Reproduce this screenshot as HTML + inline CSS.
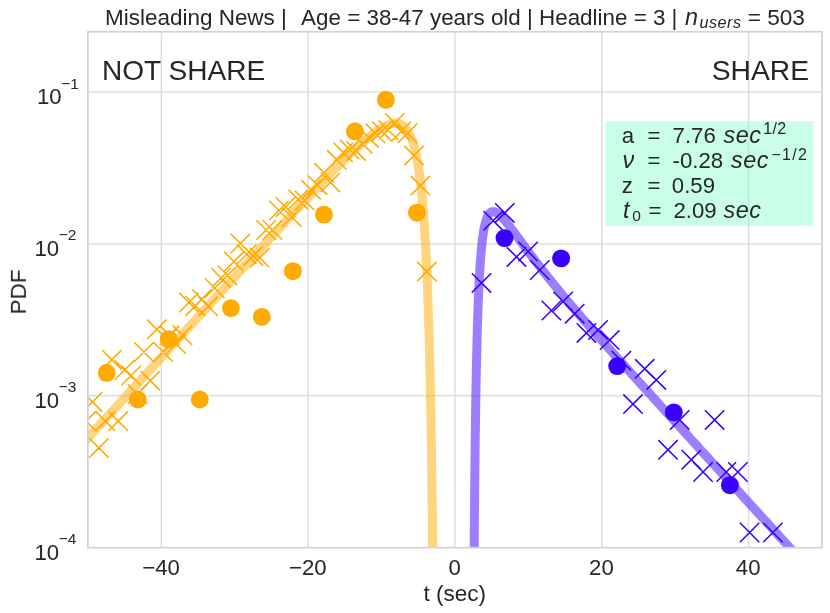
<!DOCTYPE html>
<html><head><meta charset="utf-8"><title>PDF plot</title>
<style>html,body{margin:0;padding:0;background:#fff}body{width:830px;height:613px;overflow:hidden;font-family:"Liberation Sans",sans-serif}</style></head>
<body>
<svg width="830" height="613" viewBox="0 0 830 613" style="display:block;font-family:'Liberation Sans',sans-serif">
<defs><clipPath id="ax"><rect x="87.90" y="31.76" width="734.05" height="515.94"/></clipPath></defs>
<rect width="830" height="613" fill="#fff"/>
<g stroke="#cccccc" stroke-width="1.5" stroke-opacity="0.64"><line x1="161.31" y1="31.76" x2="161.31" y2="547.70"/><line x1="308.12" y1="31.76" x2="308.12" y2="547.70"/><line x1="454.93" y1="31.76" x2="454.93" y2="547.70"/><line x1="601.74" y1="31.76" x2="601.74" y2="547.70"/><line x1="748.55" y1="31.76" x2="748.55" y2="547.70"/><line x1="87.90" y1="92.00" x2="821.95" y2="92.00"/><line x1="87.90" y1="243.90" x2="821.95" y2="243.90"/><line x1="87.90" y1="395.80" x2="821.95" y2="395.80"/></g>
<g clip-path="url(#ax)" fill="none">
<path d="M473.8 602.1 L473.9 593.9 L473.9 585.9 L474.0 578.1 L474.0 570.6 L474.1 563.3 L474.1 556.2 L474.2 549.3 L474.2 542.6 L474.3 536.0 L474.3 529.7 L474.4 523.5 L474.4 517.5 L474.5 511.6 L474.5 505.9 L474.6 500.4 L474.6 495.0 L474.7 489.7 L474.7 484.6 L474.8 479.6 L474.8 474.7 L474.9 469.9 L474.9 465.3 L475.0 460.7 L475.0 456.3 L475.1 452.0 L475.1 447.7 L475.2 443.6 L475.2 439.6 L475.3 435.6 L475.3 431.8 L475.4 428.0 L475.4 424.3 L475.5 420.7 L475.5 417.2 L475.6 413.8 L475.6 410.4 L475.7 407.1 L475.7 403.9 L475.8 400.7 L475.8 397.6 L475.9 394.6 L475.9 391.6 L476.0 388.7 L476.0 385.8 L476.1 383.1 L476.1 380.3 L476.2 377.6 L476.3 375.0 L476.3 372.4 L476.4 369.9 L476.4 367.4 L476.5 365.0 L476.5 362.6 L476.6 360.2 L476.6 357.9 L476.7 355.7 L476.7 353.5 L476.8 351.3 L476.8 349.2 L476.9 347.1 L476.9 345.0 L477.0 343.0 L477.0 341.0 L477.1 339.1 L477.1 337.2 L477.2 335.3 L477.2 333.4 L477.3 331.6 L477.3 329.9 L477.4 328.1 L477.4 326.4 L477.5 324.7 L477.5 323.0 L477.6 321.4 L477.6 319.8 L477.7 318.2 L477.7 316.6 L477.8 315.1 L477.8 313.6 L477.9 312.1 L477.9 310.7 L478.0 309.2 L478.0 307.8 L478.1 306.5 L478.1 305.1 L478.2 303.8 L478.2 302.4 L478.3 301.1 L478.3 299.9 L478.4 298.6 L478.4 297.4 L478.5 296.1 L478.5 294.9 L478.6 293.8 L478.6 292.6 L478.7 291.4 L478.7 290.3 L478.8 289.2 L478.8 288.1 L478.9 287.0 L478.9 286.0 L479.0 284.9 L479.0 283.9 L479.1 282.9 L479.1 281.9 L479.2 280.9 L479.2 279.9 L479.3 279.0 L479.3 278.0 L479.4 277.1 L479.4 276.2 L479.5 275.3 L479.5 274.4 L479.6 273.5 L479.6 272.6 L479.7 271.8 L479.7 271.0 L479.8 270.1 L479.8 269.3 L479.9 268.5 L479.9 267.7 L480.0 266.9 L480.0 266.2 L480.1 265.4 L480.1 264.7 L480.2 263.9 L480.2 263.2 L480.3 262.5 L480.3 261.8 L480.4 261.1 L480.4 260.4 L480.5 259.7 L480.6 259.0 L480.6 258.4 L480.7 257.7 L480.7 257.1 L480.8 256.4 L480.8 255.8 L480.9 255.2 L480.9 254.6 L481.0 254.0 L481.0 253.4 L481.1 252.8 L481.1 252.2 L481.2 251.6 L481.2 251.1 L481.3 250.5 L481.3 250.0 L481.4 249.4 L481.4 248.9 L481.5 248.4 L481.5 247.9 L481.6 247.3 L481.6 246.8 L481.7 246.3 L481.7 245.8 L481.8 245.4 L481.8 244.9 L481.9 244.4 L481.9 243.9 L482.0 243.5 L482.0 243.0 L482.1 242.6 L482.1 242.1 L482.2 241.7 L482.2 241.2 L482.3 240.8 L482.3 240.4 L482.4 240.0 L482.4 239.6 L482.5 239.2 L482.5 238.8 L482.6 238.4 L482.6 238.0 L482.7 237.6 L482.7 237.2 L482.8 236.8 L482.8 236.5 L482.9 236.1 L482.9 235.7 L483.0 235.4 L483.0 235.0 L483.1 234.7 L483.1 234.3 L483.2 234.0 L483.2 233.7 L483.3 233.3 L483.3 233.0 L483.4 232.7 L483.4 232.4 L483.5 232.1 L483.5 231.7 L483.6 231.4 L483.6 231.1 L483.7 230.8 L483.7 230.5 L483.8 230.3 L483.8 230.0 L483.9 229.7 L483.9 229.4 L484.0 229.1 L484.0 228.9 L484.1 228.6 L484.1 228.3 L484.2 228.1 L484.2 227.8 L484.3 227.5 L484.3 227.3 L484.4 227.0 L484.4 226.8 L484.5 226.5 L484.5 226.3 L484.6 226.1 L484.6 225.8 L484.7 225.6 L484.7 225.4 L484.8 225.2 L484.9 224.9 L484.9 224.7 L485.0 224.5 L485.0 224.3 L485.1 224.1 L485.1 223.9 L485.2 223.7 L485.2 223.5 L485.3 223.3 L485.3 223.1 L485.4 222.9 L485.4 222.7 L485.5 222.5 L485.5 222.3 L485.6 222.1 L485.6 221.9 L485.7 221.7 L485.7 221.6 L485.8 221.4 L485.8 221.2 L485.9 221.0 L485.9 220.9 L486.0 220.7 L486.0 220.5 L486.1 220.4 L486.1 220.2 L486.2 220.1 L486.2 219.9 L486.3 219.7 L486.3 219.6 L486.4 219.4 L486.4 219.3 L486.5 219.2 L486.5 219.0 L486.6 218.9 L486.6 218.7 L486.7 218.6 L486.7 218.5 L486.8 218.3 L486.8 218.2 L486.9 218.1 L486.9 217.9 L487.0 217.8 L487.0 217.7 L487.1 217.6 L487.1 217.4 L487.2 217.3 L487.2 217.2 L487.3 217.1 L487.3 217.0 L487.4 216.9 L487.4 216.7 L487.5 216.6 L487.5 216.5 L487.6 216.4 L487.6 216.3 L487.7 216.2 L487.7 216.1 L487.8 216.0 L487.8 215.9 L487.9 215.8 L487.9 215.7 L488.0 215.6 L488.0 215.5 L488.1 215.4 L488.1 215.3 L488.2 215.3 L488.2 215.2 L488.3 215.1 L488.3 215.0 L488.4 214.9 L488.4 214.8 L488.5 214.8 L488.5 214.7 L488.6 214.6 L488.6 214.5 L488.7 214.4 L488.7 214.4 L488.8 214.3 L488.8 214.2 L488.9 214.2 L488.9 214.1 L489.0 214.0 L489.1 213.9 L489.1 213.9 L489.2 213.8 L489.2 213.8 L489.3 213.7 L489.3 213.6 L489.4 213.6 L489.4 213.5 L489.5 213.5 L489.5 213.4 L489.6 213.3 L489.6 213.3 L489.7 213.2 L489.7 213.2 L489.8 213.1 L489.8 213.1 L489.9 213.0 L489.9 213.0 L490.0 212.9 L490.0 212.9 L490.1 212.8 L490.1 212.8 L490.2 212.8 L490.2 212.7 L490.3 212.7 L490.3 212.6 L490.4 212.6 L490.4 212.5 L490.5 212.5 L490.5 212.5 L490.6 212.4 L490.6 212.4 L490.7 212.4 L490.7 212.3 L490.8 212.3 L490.8 212.3 L490.9 212.2 L490.9 212.2 L491.0 212.2 L491.0 212.2 L491.1 212.1 L491.1 212.1 L491.2 212.1 L491.2 212.0 L491.3 212.0 L491.3 212.0 L491.4 212.0 L491.4 212.0 L491.5 211.9 L491.5 211.9 L491.6 211.9 L491.6 211.9 L491.7 211.9 L491.7 211.8 L491.8 211.8 L491.8 211.8 L491.9 211.8 L491.9 211.8 L492.0 211.8 L492.0 211.7 L492.1 211.7 L492.1 211.7 L492.2 211.7 L492.2 211.7 L492.3 211.7 L493.0 211.6 L493.7 211.6 L494.4 211.8 L495.1 212.0 L495.8 212.3 L496.5 212.7 L497.2 213.1 L497.9 213.6 L498.6 214.1 L499.3 214.7 L500.0 215.3 L500.7 216.0 L501.4 216.7 L502.1 217.4 L502.8 218.1 L503.5 218.9 L504.2 219.7 L504.9 220.5 L505.6 221.3 L506.3 222.2 L507.0 223.0 L507.7 223.9 L508.4 224.8 L509.1 225.7 L509.8 226.6 L510.4 227.5 L511.1 228.4 L511.8 229.3 L512.5 230.3 L513.2 231.2 L513.9 232.1 L514.6 233.1 L515.3 234.0 L516.0 235.0 L516.7 235.9 L517.4 236.8 L518.1 237.8 L518.8 238.7 L519.5 239.7 L520.2 240.7 L520.9 241.6 L521.6 242.6 L522.3 243.5 L523.0 244.5 L523.7 245.4 L524.4 246.3 L525.1 247.3 L525.8 248.2 L526.5 249.2 L527.2 250.1 L527.9 251.1 L528.6 252.0 L529.3 252.9 L530.0 253.9 L530.7 254.8 L531.4 255.7 L532.1 256.7 L532.8 257.6 L533.5 258.5 L534.2 259.4 L534.9 260.4 L535.6 261.3 L536.3 262.2 L537.0 263.1 L537.7 264.0 L538.4 264.9 L539.1 265.8 L539.8 266.7 L540.5 267.6 L541.2 268.5 L541.9 269.4 L542.6 270.3 L543.3 271.2 L544.0 272.1 L544.7 273.0 L545.4 273.9 L546.1 274.8 L546.8 275.7 L547.5 276.5 L548.2 277.4 L548.9 278.3 L549.6 279.2 L550.3 280.0 L551.0 280.9 L551.7 281.8 L552.4 282.6 L553.1 283.5 L553.8 284.4 L554.5 285.2 L555.2 286.1 L555.9 286.9 L556.6 287.8 L557.2 288.6 L557.9 289.5 L558.6 290.3 L559.3 291.2 L560.0 292.0 L560.7 292.9 L561.4 293.7 L562.1 294.6 L562.8 295.4 L563.5 296.2 L564.2 297.1 L564.9 297.9 L565.6 298.7 L566.3 299.6 L567.0 300.4 L567.7 301.2 L568.4 302.1 L569.1 302.9 L569.8 303.7 L570.5 304.5 L571.2 305.4 L571.9 306.2 L572.6 307.0 L573.3 307.8 L574.0 308.6 L574.7 309.5 L575.4 310.3 L576.1 311.1 L576.8 311.9 L577.5 312.7 L578.2 313.5 L578.9 314.3 L579.6 315.1 L580.3 316.0 L581.0 316.8 L581.7 317.6 L582.4 318.4 L583.1 319.2 L583.8 320.0 L584.5 320.8 L585.2 321.6 L585.9 322.4 L586.6 323.2 L587.3 324.0 L588.0 324.8 L588.7 325.6 L589.4 326.4 L590.1 327.2 L590.8 328.0 L591.5 328.8 L592.2 329.6 L592.9 330.4 L593.6 331.2 L594.3 332.0 L595.0 332.8 L595.7 333.5 L596.4 334.3 L597.1 335.1 L597.8 335.9 L598.5 336.7 L599.2 337.5 L599.9 338.3 L600.6 339.1 L601.3 339.9 L602.0 340.7 L602.7 341.4 L603.4 342.2 L604.1 343.0 L604.7 343.8 L605.4 344.6 L606.1 345.4 L606.8 346.2 L607.5 346.9 L608.2 347.7 L608.9 348.5 L609.6 349.3 L610.3 350.1 L611.0 350.9 L611.7 351.6 L612.4 352.4 L613.1 353.2 L613.8 354.0 L614.5 354.8 L615.2 355.5 L615.9 356.3 L616.6 357.1 L617.3 357.9 L618.0 358.7 L618.7 359.4 L619.4 360.2 L620.1 361.0 L620.8 361.8 L621.5 362.5 L622.2 363.3 L622.9 364.1 L623.6 364.9 L624.3 365.7 L625.0 366.4 L625.7 367.2 L626.4 368.0 L627.1 368.8 L627.8 369.5 L628.5 370.3 L629.2 371.1 L629.9 371.9 L630.6 372.6 L631.3 373.4 L632.0 374.2 L632.7 375.0 L633.4 375.7 L634.1 376.5 L634.8 377.3 L635.5 378.1 L636.2 378.8 L636.9 379.6 L637.6 380.4 L638.3 381.1 L639.0 381.9 L639.7 382.7 L640.4 383.5 L641.1 384.2 L641.8 385.0 L642.5 385.8 L643.2 386.6 L643.9 387.3 L644.6 388.1 L645.3 388.9 L646.0 389.6 L646.7 390.4 L647.4 391.2 L648.1 392.0 L648.8 392.7 L649.5 393.5 L650.2 394.3 L650.9 395.0 L651.5 395.8 L652.2 396.6 L652.9 397.4 L653.6 398.1 L654.3 398.9 L655.0 399.7 L655.7 400.4 L656.4 401.2 L657.1 402.0 L657.8 402.7 L658.5 403.5 L659.2 404.3 L659.9 405.1 L660.6 405.8 L661.3 406.6 L662.0 407.4 L662.7 408.1 L663.4 408.9 L664.1 409.7 L664.8 410.4 L665.5 411.2 L666.2 412.0 L666.9 412.8 L667.6 413.5 L668.3 414.3 L669.0 415.1 L669.7 415.8 L670.4 416.6 L671.1 417.4 L671.8 418.1 L672.5 418.9 L673.2 419.7 L673.9 420.4 L674.6 421.2 L675.3 422.0 L676.0 422.7 L676.7 423.5 L677.4 424.3 L678.1 425.1 L678.8 425.8 L679.5 426.6 L680.2 427.4 L680.9 428.1 L681.6 428.9 L682.3 429.7 L683.0 430.4 L683.7 431.2 L684.4 432.0 L685.1 432.7 L685.8 433.5 L686.5 434.3 L687.2 435.0 L687.9 435.8 L688.6 436.6 L689.3 437.3 L690.0 438.1 L690.7 438.9 L691.4 439.6 L692.1 440.4 L692.8 441.2 L693.5 441.9 L694.2 442.7 L694.9 443.5 L695.6 444.3 L696.3 445.0 L697.0 445.8 L697.7 446.6 L698.3 447.3 L699.0 448.1 L699.7 448.9 L700.4 449.6 L701.1 450.4 L701.8 451.2 L702.5 451.9 L703.2 452.7 L703.9 453.5 L704.6 454.2 L705.3 455.0 L706.0 455.8 L706.7 456.5 L707.4 457.3 L708.1 458.1 L708.8 458.8 L709.5 459.6 L710.2 460.4 L710.9 461.1 L711.6 461.9 L712.3 462.7 L713.0 463.4 L713.7 464.2 L714.4 465.0 L715.1 465.7 L715.8 466.5 L716.5 467.3 L717.2 468.0 L717.9 468.8 L718.6 469.6 L719.3 470.3 L720.0 471.1 L720.7 471.9 L721.4 472.6 L722.1 473.4 L722.8 474.2 L723.5 474.9 L724.2 475.7 L724.9 476.5 L725.6 477.2 L726.3 478.0 L727.0 478.8 L727.7 479.6 L728.4 480.3 L729.1 481.1 L729.8 481.9 L730.5 482.6 L731.2 483.4 L731.9 484.2 L732.6 484.9 L733.3 485.7 L734.0 486.5 L734.7 487.2 L735.4 488.0 L736.1 488.8 L736.8 489.5 L737.5 490.3 L738.2 491.1 L738.9 491.8 L739.6 492.6 L740.3 493.4 L741.0 494.1 L741.7 494.9 L742.4 495.7 L743.1 496.4 L743.8 497.2 L744.5 498.0 L745.1 498.7 L745.8 499.5 L746.5 500.3 L747.2 501.0 L747.9 501.8 L748.6 502.6 L749.3 503.3 L750.0 504.1 L750.7 504.9 L751.4 505.6 L752.1 506.4 L752.8 507.2 L753.5 507.9 L754.2 508.7 L754.9 509.5 L755.6 510.2 L756.3 511.0 L757.0 511.8 L757.7 512.5 L758.4 513.3 L759.1 514.1 L759.8 514.8 L760.5 515.6 L761.2 516.4 L761.9 517.1 L762.6 517.9 L763.3 518.7 L764.0 519.4 L764.7 520.2 L765.4 521.0 L766.1 521.7 L766.8 522.5 L767.5 523.3 L768.2 524.0 L768.9 524.8 L769.6 525.6 L770.3 526.3 L771.0 527.1 L771.7 527.9 L772.4 528.6 L773.1 529.4 L773.8 530.2 L774.5 530.9 L775.2 531.7 L775.9 532.5 L776.6 533.2 L777.3 534.0 L778.0 534.8 L778.7 535.5 L779.4 536.3 L780.1 537.1 L780.8 537.8 L781.5 538.6 L782.2 539.4 L782.9 540.1 L783.6 540.9 L784.3 541.7 L785.0 542.4 L785.7 543.2 L786.4 544.0 L787.1 544.7 L787.8 545.5 L788.5 546.3 L789.2 547.0 L789.9 547.8 L790.6 548.6 L791.3 549.3 L791.9 550.1 L792.6 550.9 L793.3 551.6 L794.0 552.4 L794.7 553.2 L795.4 553.9 L796.1 554.7 L796.8 555.5 L797.5 556.2 L798.2 557.0 L798.9 557.8 L799.6 558.5 L800.3 559.3 L801.0 560.1 L801.7 560.8 L802.4 561.6 L803.1 562.4 L803.8 563.1 L804.5 563.9 L805.2 564.7 L805.9 565.4 L806.6 566.2 L807.3 567.0 L808.0 567.7 L808.7 568.5 L809.4 569.3 L810.1 570.0 L810.8 570.8 L811.5 571.6 L812.2 572.3 L812.9 573.1 L813.6 573.9 L814.3 574.6 L815.0 575.4 L815.7 576.2 L816.4 576.9 L817.1 577.7 L817.8 578.5 L818.5 579.3 L819.2 580.0 L819.9 580.8 L820.6 581.6 L821.3 582.3 L822.0 583.1 L822.7 583.9 L823.4 584.6 L824.1 585.4 L824.8 586.2 L825.5 586.9 L826.2 587.7 L826.9 588.5 L827.6 589.2 L828.3 590.0 L829.0 590.8 L829.7 591.5 L830.4 592.3 L831.1 593.1 L831.8 593.8 L832.5 594.6 L833.2 595.4 L833.9 596.1 L834.6 596.9 L835.3 597.7 L836.0 598.4 L836.7 599.2 L837.4 600.0 L838.1 600.7 L838.7 601.5 L839.4 602.3 L840.1 603.0 L840.8 603.8 L841.5 604.6" stroke="#3a00ff" stroke-opacity="0.5" stroke-width="9" stroke-linejoin="round"/>
<circle cx="504.5" cy="238.1" r="8.95" fill="#3a00ff"/><circle cx="561.1" cy="258.4" r="8.95" fill="#3a00ff"/><circle cx="617.2" cy="366.1" r="8.95" fill="#3a00ff"/><circle cx="673.8" cy="412.4" r="8.95" fill="#3a00ff"/><circle cx="729.9" cy="485.2" r="8.95" fill="#3a00ff"/>
<path d="M471.8 273.2L491.2 292.6M471.8 292.6L491.2 273.2M483.5 211.0L502.9 230.4M483.5 230.4L502.9 211.0M495.1 203.2L514.5 222.6M495.1 222.6L514.5 203.2M506.8 247.2L526.2 266.6M506.8 266.6L526.2 247.2M518.4 241.8L537.8 261.2M518.4 261.2L537.8 241.8M530.1 260.3L549.5 279.7M530.1 279.7L549.5 260.3M541.7 300.8L561.1 320.2M541.7 320.2L561.1 300.8M553.4 291.8L572.8 311.2M553.4 311.2L572.8 291.8M565.0 304.0L584.4 323.4M565.0 323.4L584.4 304.0M576.7 323.2L596.1 342.6M576.7 342.6L596.1 323.2M588.4 320.2L607.8 339.6M588.4 339.6L607.8 320.2M600.0 330.4L619.4 349.8M600.0 349.8L619.4 330.4M611.7 351.0L631.1 370.4M611.7 370.4L631.1 351.0M623.3 394.4L642.7 413.8M623.3 413.8L642.7 394.4M635.0 359.1L654.4 378.5M635.0 378.5L654.4 359.1M646.6 370.2L666.0 389.6M646.6 389.6L666.0 370.2M658.3 440.1L677.7 459.5M658.3 459.5L677.7 440.1M670.0 410.2L689.4 429.6M670.0 429.6L689.4 410.2M681.6 450.0L701.0 469.4M681.6 469.4L701.0 450.0M693.3 462.3L712.7 481.7M693.3 481.7L712.7 462.3M704.9 410.2L724.3 429.6M704.9 429.6L724.3 410.2M716.6 462.3L736.0 481.7M716.6 481.7L736.0 462.3M728.2 462.3L747.6 481.7M728.2 481.7L747.6 462.3M739.9 522.8L759.3 542.2M739.9 542.2L759.3 522.8M763.2 522.8L782.6 542.2M763.2 542.2L782.6 522.8" stroke="#3a00ff" stroke-width="1.55"/>
<path d="M433.2 602.7 L433.2 597.2 L433.1 591.7 L433.1 586.4 L433.0 581.1 L433.0 575.9 L432.9 570.9 L432.9 565.9 L432.8 560.9 L432.8 556.1 L432.7 551.3 L432.7 546.6 L432.6 542.0 L432.6 537.5 L432.5 533.0 L432.5 528.6 L432.4 524.3 L432.4 520.0 L432.3 515.8 L432.3 511.6 L432.2 507.6 L432.2 503.5 L432.1 499.6 L432.1 495.7 L432.0 491.8 L432.0 488.0 L431.9 484.3 L431.9 480.6 L431.8 477.0 L431.8 473.4 L431.7 469.9 L431.7 466.4 L431.6 463.0 L431.6 459.6 L431.5 456.3 L431.5 453.0 L431.4 449.7 L431.4 446.5 L431.3 443.4 L431.3 440.3 L431.2 437.2 L431.2 434.2 L431.1 431.2 L431.1 428.2 L431.0 425.3 L431.0 422.4 L430.9 419.6 L430.9 416.8 L430.8 414.0 L430.8 411.3 L430.7 408.6 L430.7 405.9 L430.6 403.3 L430.6 400.7 L430.5 398.1 L430.5 395.6 L430.4 393.1 L430.4 390.6 L430.3 388.2 L430.3 385.8 L430.2 383.4 L430.2 381.1 L430.1 378.7 L430.1 376.4 L430.0 374.2 L430.0 371.9 L429.9 369.7 L429.9 367.5 L429.8 365.3 L429.8 363.2 L429.7 361.1 L429.7 359.0 L429.6 356.9 L429.6 354.9 L429.5 352.9 L429.5 350.9 L429.4 348.9 L429.3 346.9 L429.3 345.0 L429.2 343.1 L429.2 341.2 L429.1 339.3 L429.1 337.5 L429.0 335.7 L429.0 333.9 L428.9 332.1 L428.9 330.3 L428.8 328.6 L428.8 326.8 L428.7 325.1 L428.7 323.4 L428.6 321.7 L428.6 320.1 L428.5 318.4 L428.5 316.8 L428.4 315.2 L428.4 313.6 L428.3 312.0 L428.3 310.5 L428.2 308.9 L428.2 307.4 L428.1 305.9 L428.1 304.4 L428.0 302.9 L428.0 301.5 L427.9 300.0 L427.9 298.6 L427.8 297.2 L427.8 295.8 L427.7 294.4 L427.7 293.0 L427.6 291.6 L427.6 290.3 L427.5 288.9 L427.5 287.6 L427.4 286.3 L427.4 285.0 L427.3 283.7 L427.3 282.4 L427.2 281.2 L427.2 279.9 L427.1 278.7 L427.1 277.5 L427.0 276.2 L427.0 275.0 L426.9 273.9 L426.9 272.7 L426.8 271.5 L426.8 270.3 L426.7 269.2 L426.7 268.1 L426.6 266.9 L426.6 265.8 L426.5 264.7 L426.5 263.6 L426.4 262.5 L426.4 261.4 L426.3 260.4 L426.3 259.3 L426.2 258.3 L426.2 257.2 L426.1 256.2 L426.1 255.2 L426.0 254.2 L426.0 253.2 L425.9 252.2 L425.9 251.2 L425.8 250.2 L425.8 249.3 L425.7 248.3 L425.7 247.4 L425.6 246.4 L425.6 245.5 L425.5 244.6 L425.5 243.6 L425.4 242.7 L425.4 241.8 L425.3 240.9 L425.3 240.1 L425.2 239.2 L425.2 238.3 L425.1 237.4 L425.0 236.6 L425.0 235.7 L424.9 234.9 L424.9 234.1 L424.8 233.2 L424.8 232.4 L424.7 231.6 L424.7 230.8 L424.6 230.0 L424.6 229.2 L424.5 228.4 L424.5 227.6 L424.4 226.9 L424.4 226.1 L424.3 225.3 L424.3 224.6 L424.2 223.8 L424.2 223.1 L424.1 222.4 L424.1 221.6 L424.0 220.9 L424.0 220.2 L423.9 219.5 L423.9 218.8 L423.8 218.1 L423.8 217.4 L423.7 216.7 L423.7 216.0 L423.6 215.3 L423.6 214.6 L423.5 214.0 L423.5 213.3 L423.4 212.7 L423.4 212.0 L423.3 211.4 L423.3 210.7 L423.2 210.1 L423.2 209.4 L423.1 208.8 L423.1 208.2 L423.0 207.6 L423.0 207.0 L422.9 206.4 L422.9 205.8 L422.8 205.2 L422.8 204.6 L422.7 204.0 L422.7 203.4 L422.6 202.8 L422.6 202.2 L422.5 201.7 L422.5 201.1 L422.4 200.5 L422.4 200.0 L422.3 199.4 L422.3 198.9 L422.2 198.3 L422.2 197.8 L422.1 197.2 L422.1 196.7 L422.0 196.2 L422.0 195.6 L421.9 195.1 L421.9 194.6 L421.8 194.1 L421.8 193.6 L421.7 193.1 L421.7 192.6 L421.6 192.1 L421.6 191.6 L421.5 191.1 L421.5 190.6 L421.4 190.1 L421.4 189.6 L421.3 189.2 L421.3 188.7 L421.2 188.2 L421.2 187.7 L421.1 187.3 L421.1 186.8 L421.0 186.4 L421.0 185.9 L420.9 185.5 L420.9 185.0 L420.8 184.6 L420.7 184.1 L420.7 183.7 L420.6 183.3 L420.6 182.8 L420.5 182.4 L420.5 182.0 L420.4 181.5 L420.4 181.1 L420.3 180.7 L420.3 180.3 L420.2 179.9 L420.2 179.5 L420.1 179.1 L420.1 178.7 L420.0 178.3 L420.0 177.9 L419.9 177.5 L419.9 177.1 L419.8 176.7 L419.8 176.3 L419.7 175.9 L419.7 175.6 L419.6 175.2 L419.6 174.8 L419.5 174.4 L419.5 174.1 L419.4 173.7 L419.4 173.3 L419.3 173.0 L419.3 172.6 L419.2 172.3 L419.2 171.9 L419.1 171.6 L419.1 171.2 L419.0 170.9 L419.0 170.5 L418.9 170.2 L418.9 169.8 L418.8 169.5 L418.8 169.2 L418.7 168.8 L418.7 168.5 L418.6 168.2 L418.6 167.9 L418.5 167.5 L418.5 167.2 L418.4 166.9 L418.4 166.6 L418.3 166.3 L418.3 165.9 L418.2 165.6 L418.2 165.3 L418.1 165.0 L418.1 164.7 L418.0 164.4 L418.0 164.1 L417.9 163.8 L417.9 163.5 L417.8 163.2 L417.8 162.9 L417.7 162.6 L417.7 162.4 L417.6 162.1 L417.6 161.8 L416.9 158.0 L416.2 154.6 L415.5 151.5 L414.8 148.7 L414.1 146.1 L413.4 143.7 L412.7 141.5 L412.0 139.6 L411.3 137.8 L410.6 136.1 L409.9 134.6 L409.2 133.2 L408.5 132.0 L407.8 130.9 L407.1 129.8 L406.4 128.9 L405.7 128.1 L405.0 127.3 L404.3 126.7 L403.6 126.1 L402.9 125.5 L402.2 125.1 L401.5 124.7 L400.8 124.3 L400.1 124.0 L399.4 123.8 L398.7 123.6 L398.0 123.4 L397.3 123.3 L396.6 123.3 L395.9 123.2 L395.2 123.2 L394.5 123.3 L393.8 123.3 L393.1 123.4 L392.4 123.5 L391.7 123.7 L391.0 123.9 L390.3 124.0 L389.6 124.3 L388.9 124.5 L388.2 124.8 L387.5 125.0 L386.8 125.3 L386.1 125.6 L385.4 126.0 L384.7 126.3 L384.0 126.7 L383.3 127.1 L382.6 127.4 L381.9 127.8 L381.2 128.3 L380.5 128.7 L379.8 129.1 L379.1 129.6 L378.4 130.0 L377.7 130.5 L377.0 131.0 L376.3 131.5 L375.7 132.0 L375.0 132.5 L374.3 133.0 L373.6 133.5 L372.9 134.0 L372.2 134.6 L371.5 135.1 L370.8 135.7 L370.1 136.2 L369.4 136.8 L368.7 137.3 L368.0 137.9 L367.3 138.5 L366.6 139.1 L365.9 139.7 L365.2 140.3 L364.5 140.9 L363.8 141.5 L363.1 142.1 L362.4 142.7 L361.7 143.3 L361.0 143.9 L360.3 144.6 L359.6 145.2 L358.9 145.8 L358.2 146.5 L357.5 147.1 L356.8 147.7 L356.1 148.4 L355.4 149.0 L354.7 149.7 L354.0 150.3 L353.3 151.0 L352.6 151.7 L351.9 152.3 L351.2 153.0 L350.5 153.7 L349.8 154.3 L349.1 155.0 L348.4 155.7 L347.7 156.4 L347.0 157.1 L346.3 157.7 L345.6 158.4 L344.9 159.1 L344.2 159.8 L343.5 160.5 L342.8 161.2 L342.1 161.9 L341.4 162.6 L340.7 163.3 L340.0 164.0 L339.3 164.7 L338.6 165.4 L337.9 166.1 L337.2 166.8 L336.5 167.5 L335.8 168.2 L335.1 168.9 L334.4 169.7 L333.7 170.4 L333.0 171.1 L332.3 171.8 L331.6 172.5 L330.9 173.2 L330.2 174.0 L329.5 174.7 L328.9 175.4 L328.2 176.1 L327.5 176.8 L326.8 177.6 L326.1 178.3 L325.4 179.0 L324.7 179.8 L324.0 180.5 L323.3 181.2 L322.6 181.9 L321.9 182.7 L321.2 183.4 L320.5 184.1 L319.8 184.9 L319.1 185.6 L318.4 186.4 L317.7 187.1 L317.0 187.8 L316.3 188.6 L315.6 189.3 L314.9 190.0 L314.2 190.8 L313.5 191.5 L312.8 192.3 L312.1 193.0 L311.4 193.8 L310.7 194.5 L310.0 195.2 L309.3 196.0 L308.6 196.7 L307.9 197.5 L307.2 198.2 L306.5 199.0 L305.8 199.7 L305.1 200.5 L304.4 201.2 L303.7 202.0 L303.0 202.7 L302.3 203.5 L301.6 204.2 L300.9 205.0 L300.2 205.7 L299.5 206.5 L298.8 207.2 L298.1 208.0 L297.4 208.7 L296.7 209.5 L296.0 210.2 L295.3 211.0 L294.6 211.7 L293.9 212.5 L293.2 213.2 L292.5 214.0 L291.8 214.7 L291.1 215.5 L290.4 216.2 L289.7 217.0 L289.0 217.8 L288.3 218.5 L287.6 219.3 L286.9 220.0 L286.2 220.8 L285.5 221.5 L284.8 222.3 L284.1 223.0 L283.4 223.8 L282.7 224.6 L282.1 225.3 L281.4 226.1 L280.7 226.8 L280.0 227.6 L279.3 228.4 L278.6 229.1 L277.9 229.9 L277.2 230.6 L276.5 231.4 L275.8 232.2 L275.1 232.9 L274.4 233.7 L273.7 234.4 L273.0 235.2 L272.3 236.0 L271.6 236.7 L270.9 237.5 L270.2 238.2 L269.5 239.0 L268.8 239.8 L268.1 240.5 L267.4 241.3 L266.7 242.0 L266.0 242.8 L265.3 243.6 L264.6 244.3 L263.9 245.1 L263.2 245.9 L262.5 246.6 L261.8 247.4 L261.1 248.1 L260.4 248.9 L259.7 249.7 L259.0 250.4 L258.3 251.2 L257.6 252.0 L256.9 252.7 L256.2 253.5 L255.5 254.2 L254.8 255.0 L254.1 255.8 L253.4 256.5 L252.7 257.3 L252.0 258.1 L251.3 258.8 L250.6 259.6 L249.9 260.3 L249.2 261.1 L248.5 261.9 L247.8 262.6 L247.1 263.4 L246.4 264.2 L245.7 264.9 L245.0 265.7 L244.3 266.5 L243.6 267.2 L242.9 268.0 L242.2 268.8 L241.5 269.5 L240.8 270.3 L240.1 271.0 L239.4 271.8 L238.7 272.6 L238.0 273.3 L237.3 274.1 L236.6 274.9 L235.9 275.6 L235.3 276.4 L234.6 277.2 L233.9 277.9 L233.2 278.7 L232.5 279.5 L231.8 280.2 L231.1 281.0 L230.4 281.8 L229.7 282.5 L229.0 283.3 L228.3 284.1 L227.6 284.8 L226.9 285.6 L226.2 286.4 L225.5 287.1 L224.8 287.9 L224.1 288.6 L223.4 289.4 L222.7 290.2 L222.0 290.9 L221.3 291.7 L220.6 292.5 L219.9 293.2 L219.2 294.0 L218.5 294.8 L217.8 295.5 L217.1 296.3 L216.4 297.1 L215.7 297.8 L215.0 298.6 L214.3 299.4 L213.6 300.1 L212.9 300.9 L212.2 301.7 L211.5 302.4 L210.8 303.2 L210.1 304.0 L209.4 304.7 L208.7 305.5 L208.0 306.3 L207.3 307.0 L206.6 307.8 L205.9 308.6 L205.2 309.3 L204.5 310.1 L203.8 310.9 L203.1 311.6 L202.4 312.4 L201.7 313.2 L201.0 313.9 L200.3 314.7 L199.6 315.5 L198.9 316.2 L198.2 317.0 L197.5 317.8 L196.8 318.5 L196.1 319.3 L195.4 320.1 L194.7 320.8 L194.0 321.6 L193.3 322.4 L192.6 323.1 L191.9 323.9 L191.2 324.7 L190.5 325.4 L189.8 326.2 L189.1 327.0 L188.5 327.7 L187.8 328.5 L187.1 329.3 L186.4 330.0 L185.7 330.8 L185.0 331.5 L184.3 332.3 L183.6 333.1 L182.9 333.8 L182.2 334.6 L181.5 335.4 L180.8 336.1 L180.1 336.9 L179.4 337.7 L178.7 338.4 L178.0 339.2 L177.3 340.0 L176.6 340.7 L175.9 341.5 L175.2 342.3 L174.5 343.0 L173.8 343.8 L173.1 344.6 L172.4 345.3 L171.7 346.1 L171.0 346.9 L170.3 347.6 L169.6 348.4 L168.9 349.2 L168.2 349.9 L167.5 350.7 L166.8 351.5 L166.1 352.2 L165.4 353.0 L164.7 353.8 L164.0 354.5 L163.3 355.3 L162.6 356.1 L161.9 356.8 L161.2 357.6 L160.5 358.4 L159.8 359.1 L159.1 359.9 L158.4 360.7 L157.7 361.4 L157.0 362.2 L156.3 363.0 L155.6 363.7 L154.9 364.5 L154.2 365.3 L153.5 366.0 L152.8 366.8 L152.1 367.6 L151.4 368.3 L150.7 369.1 L150.0 369.9 L149.3 370.6 L148.6 371.4 L147.9 372.2 L147.2 372.9 L146.5 373.7 L145.8 374.5 L145.1 375.2 L144.4 376.0 L143.7 376.8 L143.0 377.5 L142.3 378.3 L141.6 379.1 L141.0 379.8 L140.3 380.6 L139.6 381.4 L138.9 382.1 L138.2 382.9 L137.5 383.7 L136.8 384.4 L136.1 385.2 L135.4 386.0 L134.7 386.7 L134.0 387.5 L133.3 388.3 L132.6 389.0 L131.9 389.8 L131.2 390.6 L130.5 391.3 L129.8 392.1 L129.1 392.9 L128.4 393.6 L127.7 394.4 L127.0 395.2 L126.3 395.9 L125.6 396.7 L124.9 397.5 L124.2 398.3 L123.5 399.0 L122.8 399.8 L122.1 400.6 L121.4 401.3 L120.7 402.1 L120.0 402.9 L119.3 403.6 L118.6 404.4 L117.9 405.2 L117.2 405.9 L116.5 406.7 L115.8 407.5 L115.1 408.2 L114.4 409.0 L113.7 409.8 L113.0 410.5 L112.3 411.3 L111.6 412.1 L110.9 412.8 L110.2 413.6 L109.5 414.4 L108.8 415.1 L108.1 415.9 L107.4 416.7 L106.7 417.4 L106.0 418.2 L105.3 419.0 L104.6 419.7 L103.9 420.5 L103.2 421.3 L102.5 422.0 L101.8 422.8 L101.1 423.6 L100.4 424.3 L99.7 425.1 L99.0 425.9 L98.3 426.6 L97.6 427.4 L96.9 428.2 L96.2 428.9 L95.5 429.7 L94.8 430.5 L94.2 431.2 L93.5 432.0 L92.8 432.8 L92.1 433.5 L91.4 434.3 L90.7 435.1 L90.0 435.8 L89.3 436.6 L88.6 437.4 L87.9 438.1 L87.2 438.9 L86.5 439.7 L85.8 440.4 L85.1 441.2 L84.4 442.0 L83.7 442.7 L83.0 443.5 L82.3 444.3 L81.6 445.0 L80.9 445.8 L80.2 446.6 L79.5 447.3 L78.8 448.1 L78.1 448.9 L77.4 449.6 L76.7 450.4 L76.0 451.2 L75.3 451.9 L74.6 452.7 L73.9 453.5 L73.2 454.2 L72.5 455.0 L71.8 455.8 L71.1 456.5 L70.4 457.3 L69.7 458.1 L69.0 458.8 L68.3 459.6" stroke="#ffaa00" stroke-opacity="0.5" stroke-width="9" stroke-linejoin="round"/>
<circle cx="106.7" cy="372.8" r="8.95" fill="#ffaa00"/><circle cx="137.8" cy="399.5" r="8.95" fill="#ffaa00"/><circle cx="168.7" cy="339.1" r="8.95" fill="#ffaa00"/><circle cx="199.8" cy="399.5" r="8.95" fill="#ffaa00"/><circle cx="230.9" cy="308.1" r="8.95" fill="#ffaa00"/><circle cx="261.8" cy="316.9" r="8.95" fill="#ffaa00"/><circle cx="292.9" cy="271.2" r="8.95" fill="#ffaa00"/><circle cx="323.9" cy="214.6" r="8.95" fill="#ffaa00"/><circle cx="354.9" cy="131.3" r="8.95" fill="#ffaa00"/><circle cx="385.9" cy="99.8" r="8.95" fill="#ffaa00"/><circle cx="416.9" cy="212.7" r="8.95" fill="#ffaa00"/>
<path d="M76.3 411.4L95.8 430.8M76.3 430.8L95.8 411.4M82.8 392.2L102.2 411.6M82.8 411.6L102.2 392.2M89.2 438.2L108.6 457.6M89.2 457.6L108.6 438.2M95.6 411.4L115.0 430.8M95.6 430.8L115.0 411.4M102.1 350.0L121.5 369.4M102.1 369.4L121.5 350.0M108.5 411.4L127.9 430.8M108.5 430.8L127.9 411.4M114.9 360.3L134.3 379.7M114.9 379.7L134.3 360.3M121.4 365.8L140.8 385.2M121.4 385.2L140.8 365.8M127.8 384.4L147.2 403.8M127.8 403.8L147.2 384.4M134.2 342.3L153.6 361.7M134.2 361.7L153.6 342.3M140.7 371.0L160.0 390.4M140.7 390.4L160.0 371.0M147.1 319.6L166.5 339.0M147.1 339.0L166.5 319.6M153.5 342.3L172.9 361.7M153.5 361.7L172.9 342.3M159.9 325.6L179.3 345.0M159.9 345.0L179.3 325.6M166.4 334.3L185.8 353.7M166.4 353.7L185.8 334.3M172.8 325.6L192.2 345.0M172.8 345.0L192.2 325.6M179.2 292.9L198.6 312.3M179.2 312.3L198.6 292.9M185.7 296.2L205.1 315.6M185.7 315.6L205.1 296.2M192.1 289.3L211.5 308.7M192.1 308.7L211.5 289.3M198.5 296.6L217.9 316.0M198.5 316.0L217.9 296.6M204.9 278.3L224.3 297.7M204.9 297.7L224.3 278.3M211.4 268.2L230.8 287.6M211.4 287.6L230.8 268.2M217.8 265.7L237.2 285.1M217.8 285.1L237.2 265.7M224.2 251.9L243.6 271.3M224.2 271.3L243.6 251.9M230.7 233.8L250.1 253.2M230.7 253.2L250.1 233.8M237.1 244.6L256.5 264.0M237.1 264.0L256.5 244.6M243.5 246.2L262.9 265.6M243.5 265.6L262.9 246.2M250.0 248.1L269.4 267.5M250.0 267.5L269.4 248.1M256.4 220.3L275.8 239.7M256.4 239.7L275.8 220.3M262.8 220.3L282.2 239.7M262.8 239.7L282.2 220.3M269.2 200.8L288.6 220.2M269.2 220.2L288.6 200.8M275.7 197.3L295.1 216.7M275.7 216.7L295.1 197.3M282.1 207.3L301.5 226.7M282.1 226.7L301.5 207.3M288.5 189.9L307.9 209.3M288.5 209.3L307.9 189.9M295.0 190.9L314.4 210.3M295.0 210.3L314.4 190.9M301.4 180.1L320.8 199.5M301.4 199.5L320.8 180.1M307.8 175.5L327.2 194.9M307.8 194.9L327.2 175.5M314.3 163.1L333.7 182.5M314.3 182.5L333.7 163.1M320.7 172.7L340.1 192.1M320.7 192.1L340.1 172.7M327.1 150.1L346.5 169.5M327.1 169.5L346.5 150.1M333.6 142.8L352.9 162.2M333.6 162.2L352.9 142.8M340.0 139.9L359.4 159.3M340.0 159.3L359.4 139.9M346.4 141.2L365.8 160.6M346.4 160.6L365.8 141.2M352.8 134.0L372.2 153.4M352.8 153.4L372.2 134.0M359.3 128.2L378.7 147.6M359.3 147.6L378.7 128.2M365.7 123.6L385.1 143.0M365.7 143.0L385.1 123.6M372.1 121.5L391.5 140.9M372.1 140.9L391.5 121.5M378.6 120.3L398.0 139.7M378.6 139.7L398.0 120.3M385.0 113.2L404.4 132.6M385.0 132.6L404.4 113.2M391.4 121.8L410.8 141.2M391.4 141.2L410.8 121.8M397.9 123.5L417.2 142.9M397.9 142.9L417.2 123.5M404.3 145.9L423.7 165.3M404.3 165.3L423.7 145.9M410.7 175.9L430.1 195.3M410.7 195.3L430.1 175.9M417.1 261.9L436.5 281.3M417.1 281.3L436.5 261.9" stroke="#ffaa00" stroke-width="1.55"/>
</g>
<rect x="605.5" y="121.1" width="207.9" height="104.7" fill="#7affc3" fill-opacity="0.4"/>
<rect x="87.90" y="31.76" width="734.05" height="515.94" fill="none" stroke="#d3d3d3" stroke-width="1.75"/>
<g fill="#262626" font-size="22.2" opacity="0.999">
<text x="105.0" y="24.6" font-size="22.48">Misleading News |</text>
<text x="301.1" y="24.6" font-size="22.4">Age = 38-47 years old | Headline = 3 |</text>
<text x="685" y="24.6" font-style="italic" font-size="23.4">n</text>
<text x="699.5" y="27.9" font-style="italic" font-size="16.2" letter-spacing="0.5">users</text>
<text x="747.7" y="24.6" font-size="22.6">= 503</text>
<text x="161.0" y="574.6" text-anchor="middle">−40</text>
<text x="307.8" y="574.6" text-anchor="middle">−20</text>
<text x="454.6" y="574.6" text-anchor="middle">0</text>
<text x="601.4" y="574.6" text-anchor="middle">20</text>
<text x="748.2" y="574.6" text-anchor="middle">40</text>
<text x="37.0" y="103.9">10</text>
<text x="61.3" y="88.5" font-size="15.5">−1</text>
<text x="34.5" y="255.8">10</text>
<text x="58.8" y="240.4" font-size="15.5">−2</text>
<text x="34.5" y="407.7">10</text>
<text x="58.8" y="392.3" font-size="15.5">−3</text>
<text x="34.5" y="559.6">10</text>
<text x="58.8" y="544.2" font-size="15.5">−4</text>
<text x="454.8" y="600.7" font-size="22.55" text-anchor="middle">t (sec)</text>
<text transform="translate(25.9 291.9) rotate(-90)" font-size="22.5" text-anchor="middle">PDF</text>
<text x="102.0" y="79.7" font-size="28.05">NOT SHARE</text>
<text x="809.0" y="79.7" font-size="28.25" text-anchor="end">SHARE</text>
<text x="621.8" y="142.7">a</text><text x="647.6" y="142.7">=</text><text x="672.6" y="142.7">7.76</text><text x="723.5" y="142.7" font-style="italic" font-size="23.4" letter-spacing="0.55">sec</text><text x="763.2" y="134.4" font-size="15.9" letter-spacing="0.4">1/2</text>
<text x="622.5" y="168.2" font-style="italic" font-size="23.4" letter-spacing="0.55">ν</text><text x="647.6" y="168.2">=</text><text x="672.6" y="168.2">-0.28</text><text x="731" y="168.2" font-style="italic" font-size="23.4" letter-spacing="0.55">sec</text><text x="771.6" y="160.2" font-size="15.9" letter-spacing="1.25">−1/2</text>
<text x="621.8" y="192.6">z</text><text x="647.6" y="192.6">=</text><text x="671.8" y="192.6">0.59</text>
<text x="623" y="217.5" font-style="italic" font-size="23.4" letter-spacing="0.55">t</text><text x="632.2" y="220.6" font-size="15.5">0</text><text x="648.4" y="217.5">=</text><text x="673.4" y="217.5">2.09</text><text x="723.5" y="217.5" font-style="italic" font-size="23.4" letter-spacing="0.55">sec</text>
</g>
</svg>
</body></html>
